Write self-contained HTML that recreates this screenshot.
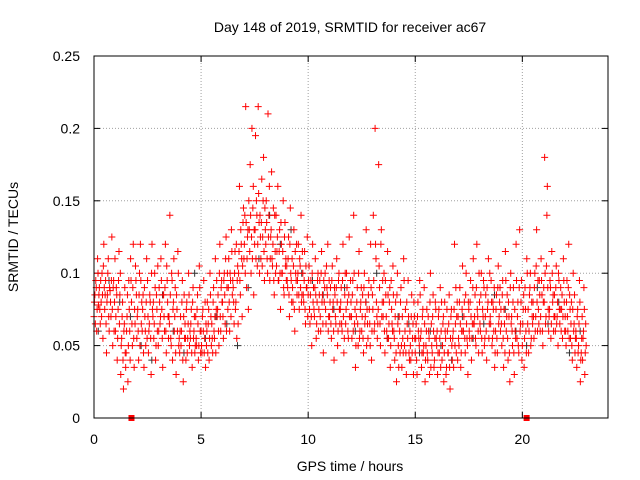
<!DOCTYPE html>
<html><head><meta charset="utf-8"><style>
body{margin:0;background:#fff;}
svg{display:block;font-family:"Liberation Sans",sans-serif;}
</style></head><body>
<svg id="chart" width="640" height="480">
<text x="350" y="32" text-anchor="middle" font-size="14">Day 148 of 2019, SRMTID for receiver ac67</text>
<text x="18" y="237" text-anchor="middle" font-size="14" transform="rotate(-90 18 237)">SRMTID / TECUs</text>
<text x="350" y="471" text-anchor="middle" font-size="14">GPS time / hours</text>
<g id="grid"></g>
<g id="ticks"></g>
<g id="black"></g>
<g id="red"></g>
<rect x="94" y="56" width="514" height="362" fill="none" stroke="#000"/>
</svg>
<script>
const xTicks=[0,5,10,15,20];
const yTicks=[0,0.05,0.1,0.15,0.2,0.25];
const yTickLabels=["0","0.05","0.1","0.15","0.2","0.25"];
const binHours=0.25;
const redVals=[
[70,85,95,60,110,78],[90,65,80,100,55,120],[75,95,45,85,110,60],[88,70,125,50,95,80],
[60,90,40,75,115,85],[30,55,80,20,65,45],[45,70,25,95,60,110],[80,50,120,35,65,95],
[55,75,40,100,120,65],[60,85,35,70,50,110],[95,45,65,80,30,120],[70,55,100,40,85,60],
[50,90,65,110,75,35],[85,60,120,45,95,70],[70,140,55,100,40,80],[60,90,30,75,115,50],
[45,70,60,95,25,85],[65,40,80,55,100,50],[55,75,35,90,60,45],[70,50,85,40,105,60],
[60,45,75,95,55,35],[50,80,65,40,100,70],[65,45,90,55,110,75],[70,85,50,120,60,95],
[80,55,100,65,125,90],[75,110,60,95,130,85],[90,65,115,80,55,105],[100,160,85,120,70,135],
[110,140,215,90,125,75],[130,175,100,200,145,85],[120,195,150,105,215,135],[140,110,165,125,180,95],
[130,150,110,210,140,95],[125,170,105,145,85,115],[140,115,160,95,130,75],[120,100,150,85,135,110],
[105,90,125,70,145,95],[110,80,130,60,100,120],[95,120,75,105,140,85],[100,80,115,65,90,125],
[85,105,65,95,50,120],[90,70,110,55,80,100],[75,95,60,115,85,45],[80,100,65,90,120,70],
[70,90,55,105,80,40],[85,65,110,50,95,75],[75,90,60,120,45,85],[65,100,80,55,125,70],
[80,55,95,140,65,35],[70,90,50,115,60,80],[60,85,45,100,70,130],[75,55,95,65,120,40],
[85,140,60,200,110,70],[65,175,90,50,130,80],[70,100,45,85,60,115],[55,80,35,95,65,105],
[60,40,80,25,100,50],[70,45,90,35,55,110],[50,75,30,65,95,45],[60,40,85,55,30,70],
[45,65,30,80,55,95],[55,35,70,45,90,25],[50,75,40,60,30,100],[65,45,85,35,55,75],
[50,30,70,45,90,60],[40,65,25,80,55,35],[60,45,85,20,70,50],[55,35,120,65,45,80],
[70,50,90,35,60,105],[60,80,45,100,55,30],[75,55,95,40,65,110],[65,85,50,120,70,45],
[80,60,100,45,70,90],[55,85,40,75,110,65],[70,95,50,80,60,35],[60,85,45,105,70,90],
[75,50,95,35,65,115],[60,85,40,70,25,100],[70,50,90,30,60,120],[55,80,45,130,65,95],
[50,75,35,90,60,110],[65,45,85,100,55,70],[80,55,100,70,130,60],[75,95,60,110,85,50],
[90,180,65,105,160,75],[70,95,55,115,80,60],[85,60,105,70,50,95],[65,90,75,55,110,80],
[70,50,95,60,120,85],[55,80,40,100,65,45],[60,35,75,50,95,25],[45,70,55,90,30,65]];
const redVals2=[
[80,65,90,75,100,85],[75,95,70,85,105,90],[85,65,80,100,70,90],[80,95,75,90,60,110],
[70,85,55,95,65,100],[50,70,40,60,90,35],[60,85,50,75,40,95],[65,90,55,75,105,85],
[70,60,85,50,95,80],[75,45,90,60,80,55],[70,60,85,55,100,75],[80,65,90,50,75,105],
[60,80,70,95,55,85],[70,90,60,105,80,55],[65,85,50,95,75,110],[70,45,85,60,100,55],
[60,50,80,40,70,55],[55,75,45,65,85,60],[65,45,80,55,70,50],[55,75,65,50,90,45],
[50,70,60,45,80,65],[60,45,75,55,85,50],[55,80,60,70,45,95],[75,60,100,70,90,80],
[70,95,85,110,60,100],[90,80,100,70,115,95],[80,100,75,120,95,65],[115,95,130,110,105,145],
[120,100,135,110,130,150],[115,140,125,110,160,130],[130,110,140,120,155,100],[125,135,105,150,115,145],
[120,135,100,125,160,110],[130,110,120,95,140,100],[105,125,95,115,100,135],[100,115,90,125,105,95],
[95,110,85,120,100,80],[90,105,75,115,95,85],[100,85,110,90,80,115],[85,95,75,105,90,70],
[95,75,85,70,100,80],[75,90,85,65,95,60],[85,70,100,80,65,95],[90,75,105,85,60,95],
[80,65,95,75,60,90],[70,90,80,60,100,65],[80,65,95,70,55,100],[75,90,60,85,70,95],
[70,85,60,100,75,50],[80,65,100,55,75,90],[70,55,90,65,80,50],[65,85,75,50,90,60],
[75,95,65,120,80,55],[75,105,65,120,70,95],[80,60,95,70,55,85],[65,90,50,75,60,85],
[55,70,45,85,65,35],[60,80,50,70,45,95],[60,45,80,55,70,40],[50,70,45,65,80,55],
[55,40,70,60,50,85],[60,45,75,50,65,40],[60,45,70,55,80,35],[50,70,60,40,80,55],
[60,45,75,55,35,80],[50,70,45,60,30,75],[45,65,35,55,75,40],[60,75,50,90,70,40],
[55,80,65,45,75,60],[70,55,85,65,50,80],[60,80,70,55,90,65],[70,55,90,75,60,100],
[65,85,55,75,95,50],[70,60,90,80,55,100],[65,80,55,75,90,45],[75,55,90,65,80,60],
[65,85,55,75,45,95],[70,55,80,45,90,65],[60,80,45,75,55,95],[70,50,90,60,80,40],
[65,85,55,75,45,100],[75,60,90,50,80,65],[70,90,60,105,80,95],[65,85,70,95,60,80],
[80,100,70,140,90,60],[75,90,65,100,85,70],[70,90,65,80,100,75],[75,60,85,70,95,60],
[60,80,70,90,55,75],[65,50,75,60,85,55],[55,70,45,65,80,40],[55,40,60,75,45,50]];
const blackVals=[60,95,80,70,50,40,85,60,45,100,55,70,65,50,90,110,140,120,130,100,95,85,75,90,60,80,100,55,70,65,45,60,50,40,70,55,65,85,75,60,50,90,65,80,45,60];
const markerHours=[1.75,20.2];

const X0=94,X1=608,Y0=418,Y1=56,XMAX=24,YMAX=0.25;
const sx=h=>X0+h/XMAX*(X1-X0);
const sy=v=>Y0-v/YMAX*(Y0-Y1);
const NS="http://www.w3.org/2000/svg";
function mk(tag,attrs,parent){const e=document.createElementNS(NS,tag);for(const k in attrs)e.setAttribute(k,attrs[k]);parent.appendChild(e);return e;}
const grid=document.getElementById('grid'),ticks=document.getElementById('ticks');
xTicks.forEach(t=>{const x=sx(t);
 if(t>0){const g=mk('line',{x1:x,x2:x,y1:Y0,y2:Y1,stroke:'#a0a0a0','stroke-dasharray':'1,2'},grid);
 }
 mk('line',{x1:x,x2:x,y1:Y0,y2:Y0-6,stroke:'#000'},ticks);
 mk('line',{x1:x,x2:x,y1:Y1,y2:Y1+6,stroke:'#000'},ticks);
 const l=mk('text',{x:x,y:Y0+26,'text-anchor':'middle','font-size':14},ticks);l.textContent=t;
 });
yTicks.forEach((t,i)=>{const y=sy(t);
 if(i>0&&i<yTicks.length-1){const g=mk('line',{x1:X0,x2:X1,y1:y,y2:y,stroke:'#a0a0a0','stroke-dasharray':'1,2'},grid);
 }
 mk('line',{x1:X0,x2:X0+6,y1:y,y2:y,stroke:'#000'},ticks);
 mk('line',{x1:X1,x2:X1-6,y1:y,y2:y,stroke:'#000'},ticks);
 const l=mk('text',{x:X0-14,y:y+5,'text-anchor':'end','font-size':14},ticks);l.textContent=yTickLabels[i];
 });
function plus(h,v,color,parent,name){const x=sx(h),y=sy(v);
 const p=mk('path',{d:`M${x-3.5},${y}h7M${x},${y-3.5}v7`,stroke:color,'stroke-width':1,fill:'none'},parent);
 
 }
const bk=document.getElementById('black');
blackVals.forEach((v,i)=>plus(i*0.5+0.2,v/1000,'#333',bk,'black-point'));
const rd=document.getElementById('red');
redVals.forEach((bin,i)=>bin.forEach((v,j)=>plus(i*binHours+j*binHours/bin.length,v/1000,'#ff0000',rd,'red-point')));
redVals2.forEach((bin,i)=>bin.forEach((v,j)=>plus(i*binHours+(j+0.5)*binHours/bin.length,v/1000,'#ff0000',rd,'red-point')));
markerHours.forEach(h=>{const r=mk('rect',{x:sx(h)-3,y:Y0-3,width:6,height:6,fill:'#ff0000'},rd);
 
 });
</script>
</body></html>
